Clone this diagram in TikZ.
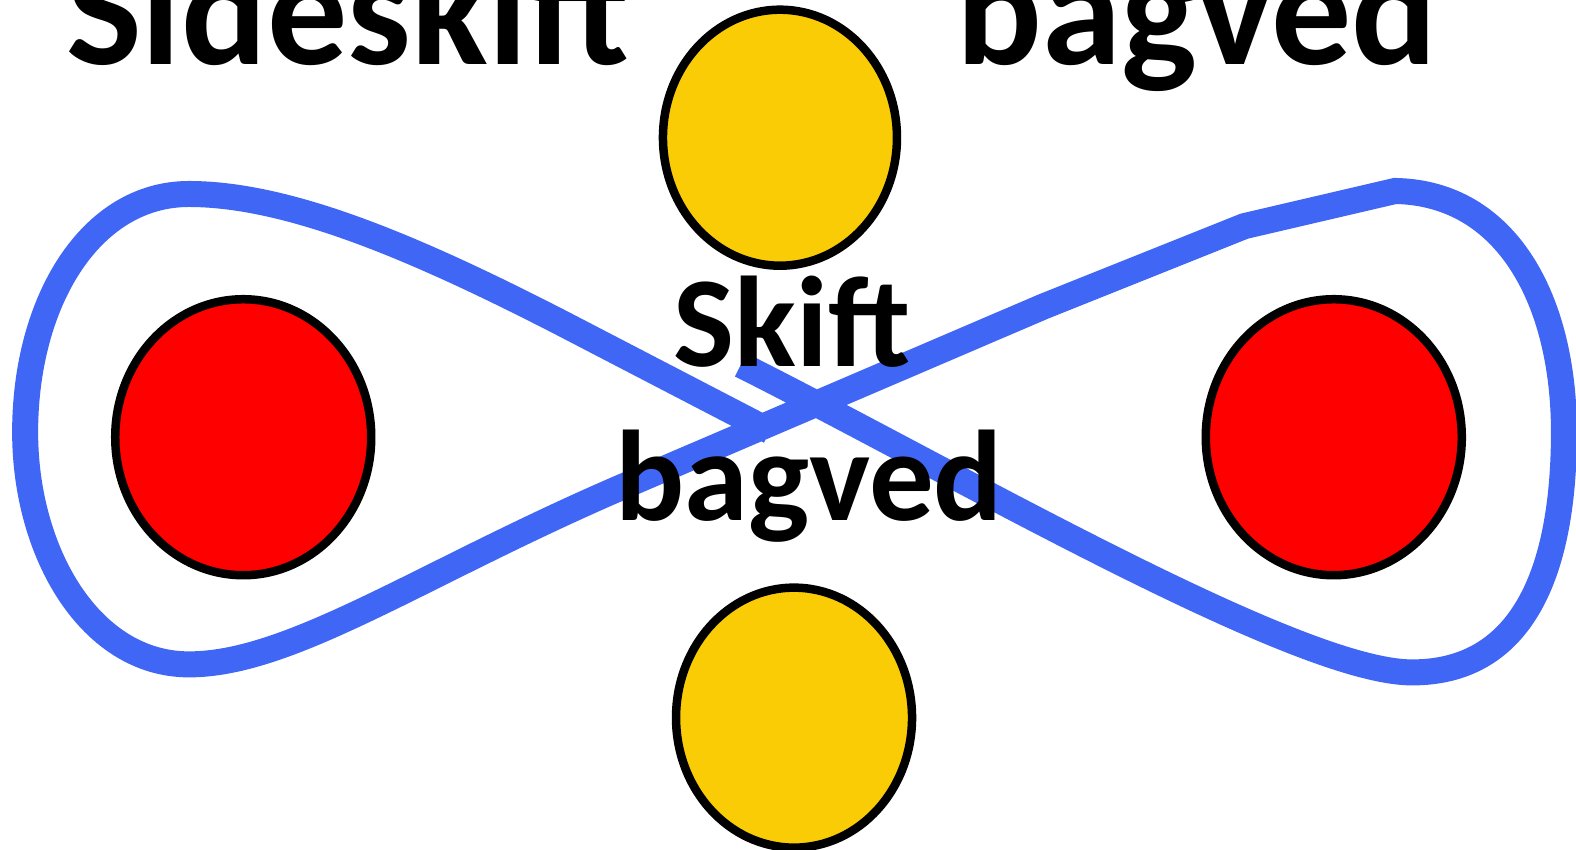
\documentclass[tikz,border=0pt]{standalone}
\usepackage{fontspec}
\setmainfont{Carlito}
\usetikzlibrary{shapes.geometric}
\definecolor{loopblue}{RGB}{64,102,246}
\definecolor{sunyellow}{RGB}{250,204,5}
\definecolor{ballred}{RGB}{255,0,0}
\tikzset{
  loopline/.style={draw=loopblue, line width=26pt, line join=miter, line cap=butt},
  ball/.style={draw=black, line width=8.5pt, ellipse, inner sep=0pt},
  bigword/.style={anchor=base, inner sep=0pt, font=\fontsize{160}{180}\selectfont\bfseries},
  midword/.style={anchor=base, inner sep=0pt, font=\fontsize{129}{150}\selectfont\bfseries}
}
\begin{document}
\begin{tikzpicture}[x=1.0051pt,y=-1.0051pt]
\useasboundingbox (0,0) rectangle (1568,845);
\clip (0,0) rectangle (1568,845);
\fill[white] (0,0) rectangle (1568,845);
% blue figure-eight
\draw[loopline] (737,363) .. controls (950,470) and (1290,669) .. (1405,669)
  .. controls (1525,669) and (1556,550) .. (1556,430)
  .. controls (1556,300) and (1500,192) .. (1388,190)
  -- (1238,225) -- (1038,305) -- (620,484)
  .. controls (420,570) and (290,661) .. (188,661)
  .. controls (90,661) and (25,550) .. (25,430)
  .. controls (25,300) and (90,193) .. (188,193)
  .. controls (290,193) and (420,250) .. (560,322) -- (766,429);
% balls
\node[ball, fill=sunyellow, minimum width=234pt, minimum height=256pt] (ytop) at (776,137) {};
\node[ball, fill=sunyellow, minimum width=236pt, minimum height=260pt] (ybot) at (790,714) {};
\node[ball, fill=ballred, minimum width=256pt, minimum height=276pt] (rleft) at (242,435) {};
\node[ball, fill=ballred, minimum width=256pt, minimum height=276pt] (rright) at (1327,435) {};
% texts
\node[bigword] (side) at (346,64) {Sideskift};
\node[bigword] (bagtop) at (1191,64) {bagved};
\node[midword] (skift) at (788,365) {Skift};
\node[midword] (bagmid) at (805,518) {bagved};
\end{tikzpicture}
\end{document}
